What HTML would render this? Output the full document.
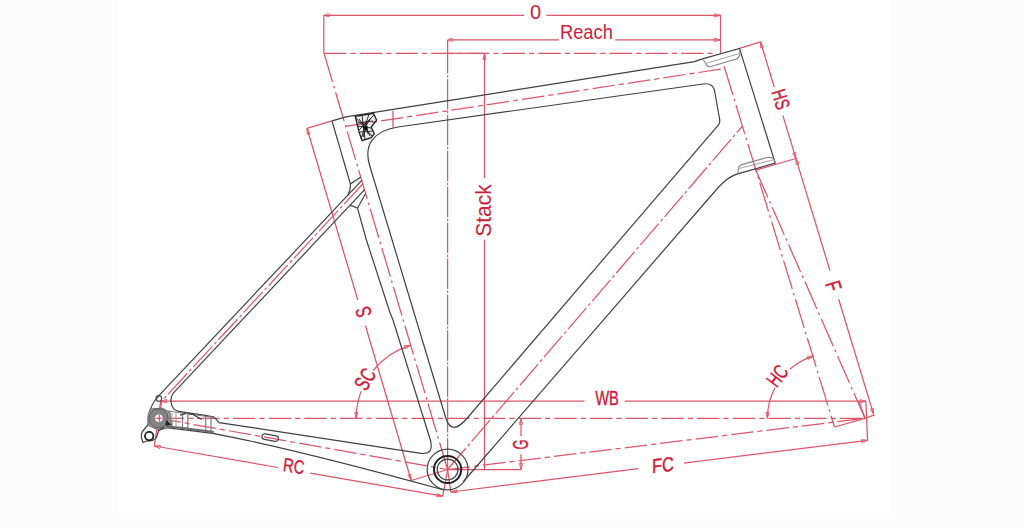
<!DOCTYPE html>
<html><head><meta charset="utf-8"><style>
html,body{margin:0;padding:0;width:1024px;height:527px;overflow:hidden;background:#fcfcfc}
svg{display:block;position:absolute;left:0;top:0}
text{font-family:"Liberation Sans",sans-serif}
</style></head><body>
<svg width="1024" height="527" viewBox="0 0 1024 527">
<rect x="119" y="0" width="771" height="513" fill="#ffffff"/>
<path d="M323.8,53.3 V15.4 H524" stroke="#dc5668" stroke-width="1.2" fill="none"/>
<path d="M546.4,15.4 H720.5 V53.3" stroke="#dc5668" stroke-width="1.2" fill="none"/>
<path d="M720.5,15.4 L714.5,17.0 L714.5,13.8 Z" fill="none" stroke="#dc5668" stroke-width="0.9"/>
<ellipse cx="327.8" cy="15.2" rx="2.6" ry="1.4" fill="none" stroke="#dc5668" stroke-width="0.8"/>
<line x1="447.6" y1="39.9" x2="559.0" y2="39.9" stroke="#dc5668" stroke-width="1.25"/>
<line x1="615.2" y1="39.9" x2="720.5" y2="39.9" stroke="#dc5668" stroke-width="1.25"/>
<path d="M720.5,39.9 L714.5,41.5 L714.5,38.3 Z" fill="none" stroke="#dc5668" stroke-width="0.9"/>
<ellipse cx="451" cy="39.9" rx="2.6" ry="1.4" fill="none" stroke="#dc5668" stroke-width="0.8"/>
<line x1="324.0" y1="53.3" x2="716.0" y2="53.3" stroke="#dc5668" stroke-width="1.25" stroke-dasharray="22.5 4 5.2 4" stroke-dashoffset="0"/>
<line x1="447.6" y1="39.9" x2="447.6" y2="73.6" stroke="#dc5668" stroke-width="1.25"/>
<line x1="447.6" y1="75.2" x2="447.6" y2="469.5" stroke="#dc5668" stroke-width="1.25" stroke-dasharray="2.2 1.6 30.5 1.6" stroke-dashoffset="0"/>
<line x1="447.6" y1="53.3" x2="484.5" y2="53.3" stroke="#dc5668" stroke-width="1.25"/>
<line x1="484.5" y1="53.3" x2="484.5" y2="178.0" stroke="#dc5668" stroke-width="1.25"/>
<line x1="484.5" y1="239.7" x2="484.5" y2="469.5" stroke="#dc5668" stroke-width="1.25"/>
<path d="M484.5,53.3 L486.1,59.3 L482.9,59.3 Z" fill="none" stroke="#dc5668" stroke-width="0.9"/>
<line x1="324.0" y1="53.3" x2="447.6" y2="469.5" stroke="#dc5668" stroke-width="1.25" stroke-dasharray="30 4 2.6 4" stroke-dashoffset="0"/>
<line x1="345.6" y1="126.3" x2="724.8" y2="68.5" stroke="#dc5668" stroke-width="1.25" stroke-dasharray="22.5 4 5.2 4" stroke-dashoffset="0"/>
<line x1="393.0" y1="110.5" x2="393.0" y2="127.8" stroke="#dc5668" stroke-width="1.25"/>
<line x1="720.1" y1="53.3" x2="720.6" y2="55.0" stroke="none" stroke-width="1.25"/>
<line x1="724.1" y1="66.3" x2="834.5" y2="427.0" stroke="#dc5668" stroke-width="1.25" stroke-dasharray="30 4 2.6 4" stroke-dashoffset="0"/>
<line x1="834.5" y1="427.0" x2="865.0" y2="418.3" stroke="#dc5668" stroke-width="1.25"/>
<line x1="755.8" y1="170.1" x2="865.0" y2="418.3" stroke="#dc5668" stroke-width="1.25" stroke-dasharray="30 4 2.6 4" stroke-dashoffset="0"/>
<line x1="760.5" y1="41.8" x2="774.2" y2="87.0" stroke="#dc5668" stroke-width="1.25"/>
<line x1="782.9" y1="115.6" x2="829.9" y2="270.5" stroke="#dc5668" stroke-width="1.25"/>
<line x1="838.6" y1="299.0" x2="873.6" y2="414.4" stroke="#dc5668" stroke-width="1.25"/>
<path d="M760.5,41.8 L763.8,47.1 L760.7,48.0 Z" fill="none" stroke="#dc5668" stroke-width="0.9"/>
<path d="M795.9,158.5 L792.6,153.2 L795.7,152.3 Z" fill="none" stroke="#dc5668" stroke-width="0.9"/>
<path d="M795.9,158.5 L799.2,163.8 L796.1,164.7 Z" fill="none" stroke="#dc5668" stroke-width="0.9"/>
<path d="M873.6,414.4 L870.3,409.1 L873.4,408.2 Z" fill="none" stroke="#dc5668" stroke-width="0.9"/>
<line x1="739.5" y1="48.4" x2="760.5" y2="41.8" stroke="#dc5668" stroke-width="1.25"/>
<line x1="865.0" y1="418.3" x2="874.6" y2="414.9" stroke="#dc5668" stroke-width="1.25"/>
<line x1="447.6" y1="469.5" x2="742.5" y2="126.0" stroke="#dc5668" stroke-width="1.25" stroke-dasharray="28 3 3 3" stroke-dashoffset="0"/>
<line x1="160.6" y1="401.2" x2="584.5" y2="401.2" stroke="#dc5668" stroke-width="1.25"/>
<line x1="624.7" y1="401.2" x2="866.0" y2="401.2" stroke="#dc5668" stroke-width="1.25"/>
<path d="M160.6,401.2 L166.6,399.6 L166.6,402.8 Z" fill="none" stroke="#dc5668" stroke-width="0.9"/>
<path d="M866.0,401.2 L860.0,402.8 L860.0,399.6 Z" fill="none" stroke="#dc5668" stroke-width="0.9"/>
<line x1="158.5" y1="418.3" x2="160.6" y2="401.2" stroke="#dc5668" stroke-width="1.25"/>
<line x1="865.8" y1="401.2" x2="867.6" y2="440.3" stroke="#dc5668" stroke-width="1.25"/>
<line x1="858.8" y1="401.2" x2="865.0" y2="418.3" stroke="#dc5668" stroke-width="1.25"/>
<line x1="158.5" y1="418.3" x2="865.0" y2="418.3" stroke="#dc5668" stroke-width="1.25" stroke-dasharray="22.5 4 5.2 4" stroke-dashoffset="-3"/>
<path d="M767.4,418.3 A65,65 0 0 1 775.0,387.8" stroke="#dc5668" stroke-width="1.2" fill="none"/>
<path d="M789.8,369.2 A65,65 0 0 1 813.4,356.1" stroke="#dc5668" stroke-width="1.2" fill="none"/>
<path d="M767.4,418.3 L765.8,412.3 L769.0,412.3 Z" fill="none" stroke="#dc5668" stroke-width="0.9"/>
<path d="M813.4,356.1 L808.1,359.4 L807.2,356.4 Z" fill="none" stroke="#dc5668" stroke-width="0.9"/>
<path d="M356.2,418.3 A76,76 0 0 1 361.2,391.1" stroke="#dc5668" stroke-width="1.2" fill="none"/>
<path d="M373.1,370.5 A76,76 0 0 1 410.6,345.4" stroke="#dc5668" stroke-width="1.2" fill="none"/>
<path d="M356.2,418.3 L354.6,412.3 L357.8,412.3 Z" fill="none" stroke="#dc5668" stroke-width="0.9"/>
<path d="M410.6,345.4 L405.3,348.7 L404.4,345.6 Z" fill="none" stroke="#dc5668" stroke-width="0.9"/>
<line x1="307.0" y1="128.3" x2="357.8" y2="300.0" stroke="#dc5668" stroke-width="1.25"/>
<line x1="365.4" y1="325.5" x2="411.2" y2="480.5" stroke="#dc5668" stroke-width="1.25"/>
<path d="M307.0,128.3 L310.2,133.6 L307.2,134.5 Z" fill="none" stroke="#dc5668" stroke-width="0.9"/>
<path d="M411.2,480.5 L408.0,475.2 L411.0,474.3 Z" fill="none" stroke="#dc5668" stroke-width="0.9"/>
<line x1="332.0" y1="120.8" x2="307.0" y2="128.3" stroke="#dc5668" stroke-width="1.25"/>
<line x1="447.6" y1="469.5" x2="411.2" y2="480.5" stroke="#dc5668" stroke-width="1.25"/>
<line x1="447.6" y1="469.5" x2="521.0" y2="469.5" stroke="#dc5668" stroke-width="1.25"/>
<line x1="521.0" y1="418.3" x2="521.0" y2="436.0" stroke="#dc5668" stroke-width="1.25"/>
<line x1="521.0" y1="454.2" x2="521.0" y2="469.5" stroke="#dc5668" stroke-width="1.25"/>
<path d="M521.0,418.3 L522.6,424.3 L519.4,424.3 Z" fill="none" stroke="#dc5668" stroke-width="0.9"/>
<path d="M521.0,469.5 L519.4,463.5 L522.6,463.5 Z" fill="none" stroke="#dc5668" stroke-width="0.9"/>
<line x1="158.5" y1="418.3" x2="447.6" y2="469.5" stroke="#dc5668" stroke-width="1.25" stroke-dasharray="22.5 4 5.2 4" stroke-dashoffset="0"/>
<line x1="158.5" y1="418.3" x2="154.3" y2="446.0" stroke="#dc5668" stroke-width="1.25"/>
<line x1="447.6" y1="469.5" x2="442.8" y2="496.2" stroke="#dc5668" stroke-width="1.25"/>
<line x1="154.3" y1="446.0" x2="278.0" y2="467.5" stroke="#dc5668" stroke-width="1.25"/>
<line x1="310.3" y1="473.1" x2="442.8" y2="496.2" stroke="#dc5668" stroke-width="1.25"/>
<path d="M154.3,446.0 L160.5,445.5 L159.9,448.6 Z" fill="none" stroke="#dc5668" stroke-width="0.9"/>
<path d="M442.8,496.2 L436.6,496.7 L437.2,493.6 Z" fill="none" stroke="#dc5668" stroke-width="0.9"/>
<line x1="447.6" y1="469.5" x2="450.8" y2="492.0" stroke="#dc5668" stroke-width="1.25"/>
<line x1="450.8" y1="492.0" x2="638.3" y2="468.7" stroke="#dc5668" stroke-width="1.25"/>
<line x1="684.0" y1="463.1" x2="867.6" y2="440.3" stroke="#dc5668" stroke-width="1.25"/>
<path d="M450.8,492.0 L456.6,489.7 L457.0,492.8 Z" fill="none" stroke="#dc5668" stroke-width="0.9"/>
<path d="M867.6,440.3 L861.8,442.6 L861.4,439.5 Z" fill="none" stroke="#dc5668" stroke-width="0.9"/>
<line x1="447.6" y1="469.5" x2="865.0" y2="418.3" stroke="#dc5668" stroke-width="1.25" stroke-dasharray="22.5 4 5.2 4" stroke-dashoffset="0"/>
<path d="M363.2,183.5 L162.1,400.6 L158.5,418.3" stroke="#dc5668" stroke-width="1.2" fill="none" stroke-dasharray="28 3 3 3"/>
<path d="M332,120.8 L346,116.9 L694.5,61.6 Q699,60.2 702.5,58.9 L739.5,48.4 L775.2,163 L737.8,173.9 C727,177.2 720,185.4 713,193.5 L463.5,481.5" stroke="#404040" stroke-width="1.2" fill="none"/>
<path d="M332,120.8 L350.4,184 L360.8,176.9 M350.4,184 Q350.8,190 347.4,195.7" stroke="#404040" stroke-width="1.2" fill="none"/>
<path d="M362,180.2 L159.1,395.3 Q150,405 149.2,416 Q148.5,422 147.8,425" stroke="#404040" stroke-width="1.2" fill="none"/>
<path d="M172.8,393.7 Q168.5,401 173.7,408.9 Q176,411.2 181.7,411.8 L203.3,415.2 L213.6,416.9 Q216,418.5 219,422.6 L421,453.3 Q434,455 430.5,440.5 L393,320 Q389,311 386.7,302.5 L366.4,240 L357.5,208.2 Q353,206 349.9,205.3 L364.6,189.7 M349.9,205.3 L172.8,393.7 M357.5,208.2 L365.6,193.5" stroke="#404040" stroke-width="1.2" fill="none"/>
<path d="M164.4,427.3 L212.7,433.3 C285,447 375,471 444,490" stroke="#404040" stroke-width="1.2" fill="none"/>
<path d="M369.5,165 C364,146 372,131 398,127 L703,84 Q713.5,82.3 714.8,92 L719.6,119 Q720.3,122.2 718.5,124.8 L467.3,418 Q451.5,436.6 445.8,418 L369.5,165" stroke="#404040" stroke-width="1.2" fill="none"/>
<circle cx="447.6" cy="469.5" r="20.4" fill="none" stroke="#404040" stroke-width="1.2"/>
<circle cx="447.6" cy="469.5" r="13.6" fill="none" stroke="#222" stroke-width="2"/>
<circle cx="447.6" cy="469.5" r="10.4" fill="none" stroke="#404040" stroke-width="1.2"/>
<path d="M703.5,60 L706.8,65.5 Q708.5,67.2 711,66.4 L736,59 Q739,58 740,54.5 L739.6,49.5" stroke="#858585" stroke-width="1.1" fill="none"/>
<path d="M705.2,63.6 L739.2,53.6" stroke="#999" stroke-width="0.9" fill="none"/>
<path d="M737.8,173.5 L738.6,167.5 Q739.5,165.3 742,164.6 L767,157.5 Q771.5,156.8 773.5,159 L775.2,162" stroke="#858585" stroke-width="1.1" fill="none"/>
<path d="M738.6,168.6 L774,159.6" stroke="#999" stroke-width="0.9" fill="none"/>
<path d="M355.3,116.4 L373.5,113.3 L376.6,120.2 L371.2,127 L374.3,133.8 L371.2,137.6 L362.1,140.7 L359.1,132.3 Z" stroke="#1e1e1e" stroke-width="1.3" fill="rgba(50,50,50,0.1)"/>
<path d="M356,118 L372,136 M362,115 L365,140 M374,115 L358,131 M358,123 L373,121 M360,132 L373,131 M369,114 L361,139 M357,126 L371,128 M366,121 L368,134 M359,119 L366,128 L363,137 M371,118 L365,127 L370,136" stroke="#1a1a1a" stroke-width="0.9" fill="none"/>
<circle cx="365.5" cy="128" r="2.2" fill="#111"/>
<rect x="-8.3" y="-2.8" width="16.6" height="5.6" rx="2.8" transform="translate(270.2,437.6) rotate(10)" fill="none" stroke="#404040" stroke-width="1.2"/>
<path d="M150,409 Q146,418 149,426 L158,430 L166,428.5 L171,425 L170,412 L162,408 Z" stroke="#6a6a6a" stroke-width="0.9" fill="#9a9a9a"/>
<circle cx="158.5" cy="418.3" r="9.6" fill="#858585" stroke="#5a5a5a" stroke-width="1"/>
<circle cx="158.9" cy="418.3" r="3.8" fill="#fff"/>
<line x1="155.7" y1="418.3" x2="162.3" y2="418.3" stroke="#e0404f" stroke-width="1.1"/>
<line x1="159.3" y1="414.9" x2="159.3" y2="421.7" stroke="#e0404f" stroke-width="1.1"/>
<path d="M166.5,421 L170.5,424.5 L166,425.5 Z" stroke="#222" stroke-width="1" fill="#222"/>
<circle cx="158.9" cy="398.4" r="2.8" fill="none" stroke="#404040" stroke-width="1.1"/>
<path d="M147.8,425 L144.5,429 Q140.5,433 141.5,438 L143,442.5 L147.5,440.8 Q153.5,441.5 156.5,437.5 L158.5,431 L164.4,427.3" stroke="#404040" stroke-width="1.2" fill="none"/>
<circle cx="149.2" cy="436.1" r="4.2" fill="none" stroke="#222" stroke-width="1.8"/>

<path d="M168,411 L214,417.5" stroke="#7a7a7a" stroke-width="1" fill="none"/>
<path d="M170,417 L172,425 L168,427.5" stroke="#777" stroke-width="1.6" fill="none"/>
<path d="M182.5,413 L182.5,428.5 M187.8,413.5 L187.8,429.5 M205.7,416 L205.7,432 M211,416.5 L211,432.5" stroke="#7c7c7c" stroke-width="1.2" fill="none"/>
<path d="M166,426.5 L179,427.5 L213.7,432" stroke="#6a6a6a" stroke-width="2.2" fill="none"/>
<path d="M188.4,413.6 L193,414.5 L201.7,419.5" stroke="#333" stroke-width="1.2" fill="none"/>
<path d="M180,415 L186,413.5" stroke="#555" stroke-width="1.4" fill="none"/>
<path d="M172,413 L172,424 M176,412 L176,426" stroke="#9a9a9a" stroke-width="1" fill="none"/>
<line x1="755.8" y1="170.1" x2="795.9" y2="158.5" stroke="#dc5668" stroke-width="1.3"/>
<text transform="translate(535.6,11.7) rotate(0) scale(1.0,1)" x="0" y="6.88" font-size="20" text-anchor="middle" fill="#cc1e3c" stroke="#cc1e3c" stroke-width="0.05">0</text>
<text transform="translate(586.4,32.0) rotate(0) scale(0.9,1)" x="0" y="6.98" font-size="20.3" text-anchor="middle" fill="#cc1e3c" stroke="#cc1e3c" stroke-width="0.05">Reach</text>
<text transform="translate(483.8,210.5) rotate(-90) scale(0.98,1)" x="0" y="7.36" font-size="21.4" text-anchor="middle" fill="#cc1e3c" stroke="#cc1e3c" stroke-width="0.05">Stack</text>
<text transform="translate(607.0,398.2) rotate(0) scale(0.7,1)" x="0" y="7.22" font-size="21" text-anchor="middle" fill="#cc1e3c" stroke="#cc1e3c" stroke-width="0.45">WB</text>
<text transform="translate(520.8,444.5) rotate(-90) scale(0.6,1)" x="0" y="7.40" font-size="21.5" text-anchor="middle" fill="#cc1e3c" stroke="#cc1e3c" stroke-width="0.45">G</text>
<text transform="translate(780.7,99.3) rotate(73) scale(0.72,1)" x="0" y="6.88" font-size="20" text-anchor="middle" fill="#cc1e3c" stroke="#cc1e3c" stroke-width="0.45">HS</text>
<text transform="translate(833.5,286.0) rotate(73) scale(0.74,1)" x="0" y="7.40" font-size="21.5" text-anchor="middle" fill="#cc1e3c" stroke="#cc1e3c" stroke-width="0.45">F</text>
<text transform="translate(777.4,375.9) rotate(-52) scale(0.68,1)" x="0" y="7.22" font-size="21" text-anchor="middle" fill="#cc1e3c" stroke="#cc1e3c" stroke-width="0.45">HC</text>
<text transform="translate(365.0,379.2) rotate(-59) scale(0.7,1)" x="0" y="7.40" font-size="21.5" text-anchor="middle" fill="#cc1e3c" stroke="#cc1e3c" stroke-width="0.45">SC</text>
<text transform="translate(363.5,312.0) rotate(-106.5) scale(0.7,1)" x="0" y="7.33" font-size="21.3" text-anchor="middle" fill="#cc1e3c" stroke="#cc1e3c" stroke-width="0.45">S</text>
<text transform="translate(293.8,466.0) rotate(0) skewY(10) skewX(-7) scale(0.75,1)" x="0" y="6.64" font-size="19.3" text-anchor="middle" fill="#cc1e3c" stroke="#cc1e3c" stroke-width="0.45">RC</text>
<text transform="translate(663.0,465.0) rotate(0) skewY(-7) scale(0.82,1)" x="0" y="6.88" font-size="20" text-anchor="middle" fill="#cc1e3c" stroke="#cc1e3c" stroke-width="0.45">FC</text>
</svg>
</body></html>
